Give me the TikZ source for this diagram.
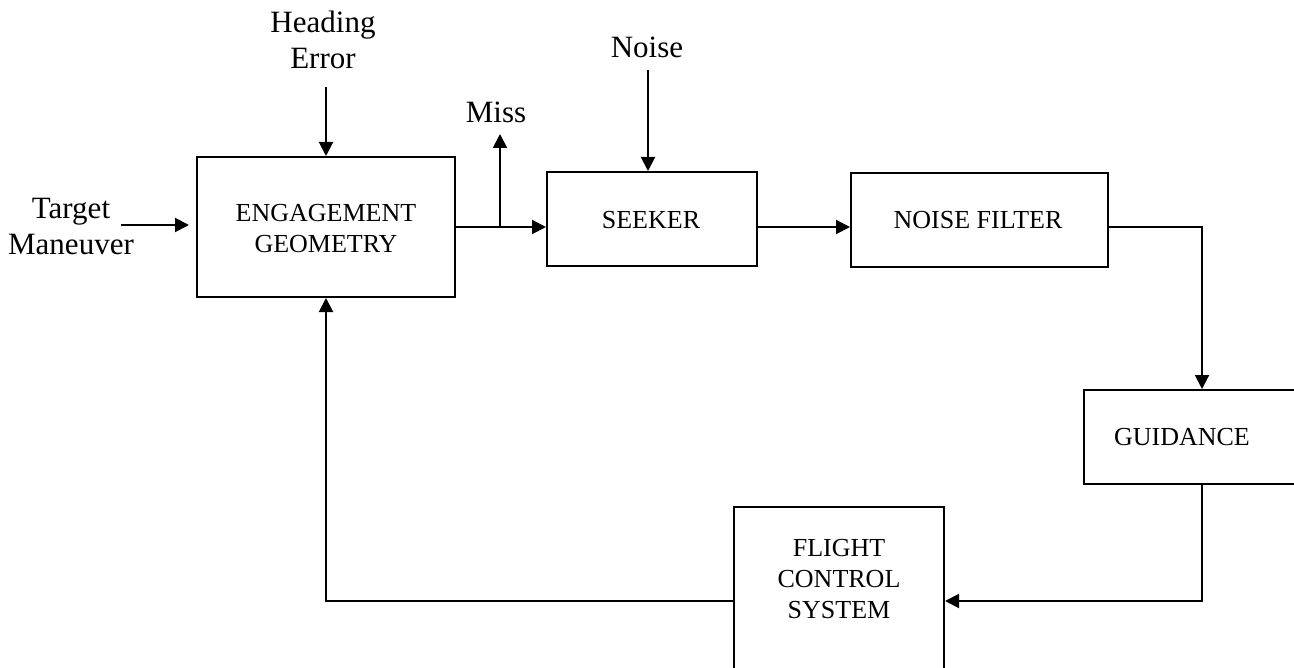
\documentclass[tikz,border=0pt]{standalone}
\usepackage{fontspec}
\setmainfont{Liberation Serif}
\usetikzlibrary{arrows.meta,calc}
\begin{document}
\begin{tikzpicture}[x=0.5pt,y=-0.5pt,
  blk/.style={draw,line width=1pt,inner sep=0pt,fill=none},
  boxtxt/.style={inner sep=0pt,font=\fontsize{13}{15.5}\selectfont,align=center},
  lbl/.style={inner sep=0pt,font=\fontsize{15.5}{18}\selectfont,align=center},
  arr/.style={line width=1pt,-{Triangle[length=7pt,width=7pt]}},
  ln/.style={line width=1pt}]
\useasboundingbox (0,0) rectangle (1294,668);

% blocks
\node[blk,minimum width=129pt,minimum height=70pt] (eg) at (326,227) {};
\node[boxtxt] (egtxt) at (326,229) {ENGAGEMENT\\GEOMETRY};
\node[blk,minimum width=105pt,minimum height=47pt] (seeker) at (652,219) {};
\node[boxtxt] (seekertxt) at (651,220) {SEEKER};
\node[blk,minimum width=128.5pt,minimum height=47pt] (nf) at (979.5,220) {};
\node[boxtxt] (nftxt) at (978,220) {NOISE FILTER};
\node[blk,minimum width=118pt,minimum height=47pt] (guid) at (1202,437) {};
\node[boxtxt] (guidtxt) at (1182,437) {GUIDANCE};
\node[blk,minimum width=105pt,minimum height=94pt] (fcs) at (839,601) {};
\node[boxtxt] (fcstxt) at (839,579) {FLIGHT\\CONTROL\\SYSTEM};

% labels
\node[lbl] (tm) at (71,227) {Target\\Maneuver};
\node[lbl] (he) at (323,40) {Heading\\Error};
\node[lbl] (miss) at (496,112) {Miss};
\node[lbl] (noise) at (647,47) {Noise};

% free ends
\coordinate (tmstart) at (121,225);
\coordinate (hestart) at (326,87);
\coordinate (br) at (500,227);
\coordinate (missend) at (500,134);
\coordinate (nstart) at (648,70);

% connectors
\draw[arr,shorten >=3.5pt] (tmstart) -- (tmstart -| eg.west);
\draw[arr] (hestart) -- (eg.north);
\draw[arr] (eg.east |- br) -- (seeker.west |- br);
\draw[arr] (br) -- (missend);
\draw[arr] (nstart) -- (nstart |- seeker.north);
\draw[arr] (seeker.east |- br) -- (nf.west |- br);
\draw[arr] (nf.east |- br) -| (guid.north);
\draw[arr] (guid.south) |- (fcs.east);
\draw[arr] (fcs.west) -| (eg.south);
\end{tikzpicture}
\end{document}
